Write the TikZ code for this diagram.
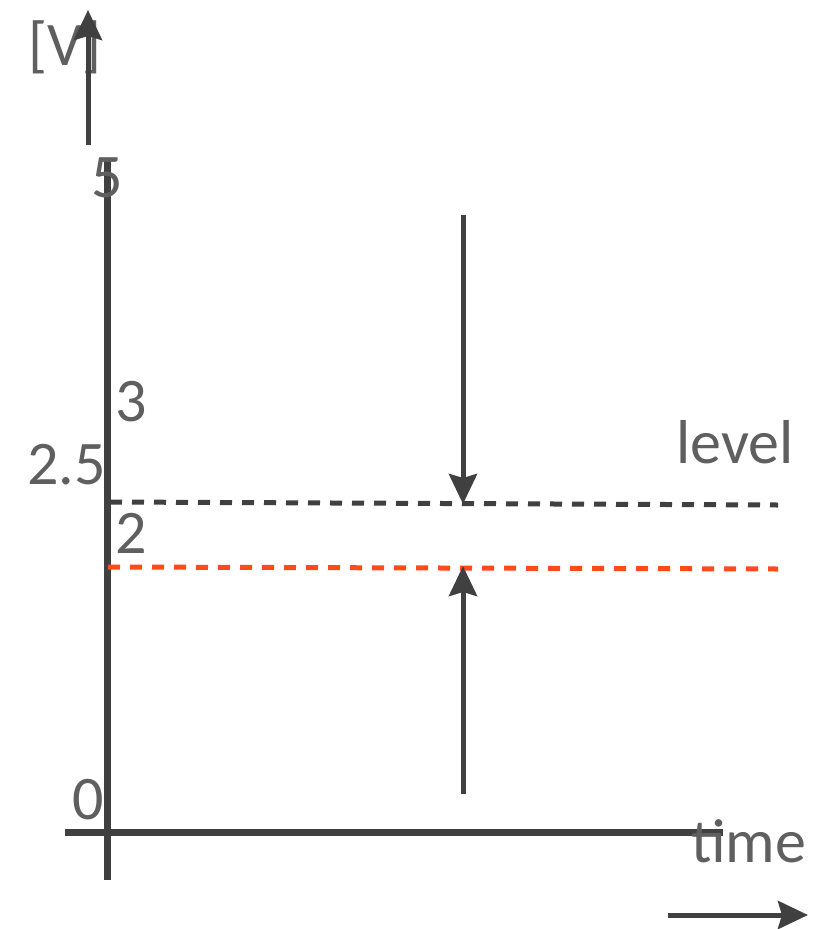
\documentclass[tikz,border=0pt]{standalone}
\usepackage{fontspec}
\setmainfont{Carlito}
\usetikzlibrary{arrows.meta}
\definecolor{axisgray}{HTML}{404040}
\definecolor{textgray}{HTML}{5F5F5F}
\definecolor{levelred}{HTML}{FF4A1A}
\tikzset{
  lbl/.style={text=textgray, font=\fontsize{62}{62}\selectfont, inner sep=0pt},
  axisline/.style={draw=axisgray, line width=7pt},
  arr/.style={draw=axisgray, line width=5pt, -{Stealth[length=30pt, width=28pt, inset=4pt]}},
  dashblack/.style={draw=axisgray, line width=5pt, dash pattern=on 12pt off 10pt},
  dashred/.style={draw=levelred, line width=5pt, dash pattern=on 12pt off 10pt},
}
\begin{document}
\begin{tikzpicture}[x=1pt,y=-1pt]
\useasboundingbox (0,0) rectangle (837,929);
% axes
\coordinate (vtop) at (107,160);
\coordinate (vbot) at (107,880);
\coordinate (hleft) at (65,832);
\coordinate (hright) at (723,832);
\draw[axisline] (vtop) -- (vbot);
\draw[axisline] (hleft) -- (hright);
% labels
\node[lbl] (v) at (65,47) {[V]};
\node[lbl] (five) at (107,178) {5};
\node[lbl, anchor=west] (three) at (115,402) {3};
\node[lbl, anchor=east] (twofive) at (106,465) {2.5};
\node[lbl, anchor=west] (two) at (115,533) {2};
\node[lbl, anchor=east] (zero) at (104,800) {0};
\node[lbl, anchor=base west] (level) at (676,463) {level};
\node[lbl, anchor=base west] (time) at (691,862) {time};
% y arrow
\coordinate (ya) at (88,145);
\coordinate (yb) at (88,10);
\draw[arr] (ya) -- (yb);
% time arrow
\coordinate (ta) at (668,915);
\coordinate (tb) at (808,915);
\draw[arr] (ta) -- (tb);
% levels
\coordinate (bl) at (110,502);
\coordinate (br) at (778,505);
\coordinate (rl) at (108,567);
\coordinate (rr) at (778,569);
\draw[dashblack] (bl) -- (br);
\draw[dashred] (rl) -- (rr);
% vertical arrows
\coordinate (da) at (463,215);
\coordinate (db) at (463,504);
\coordinate (ua) at (463,794);
\coordinate (ub) at (463,566);
\draw[arr] (da) -- (db);
\draw[arr] (ua) -- (ub);
\end{tikzpicture}
\end{document}
